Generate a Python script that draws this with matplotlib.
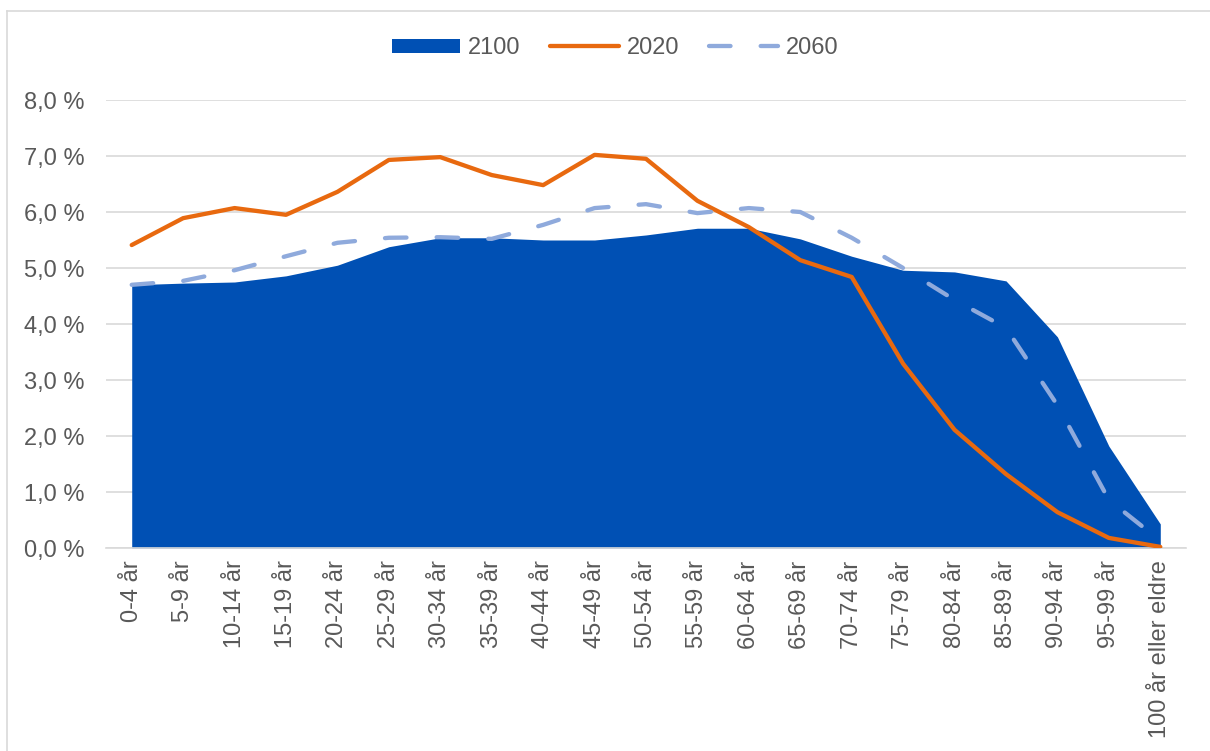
import matplotlib
matplotlib.use("Agg")
import matplotlib.pyplot as plt
from matplotlib.lines import Line2D
from matplotlib.patches import Patch
from matplotlib.ticker import FuncFormatter

categories = ["0-4 år", "5-9 år", "10-14 år", "15-19 år", "20-24 år", "25-29 år",
              "30-34 år", "35-39 år", "40-44 år", "45-49 år", "50-54 år", "55-59 år",
              "60-64 år", "65-69 år", "70-74 år", "75-79 år", "80-84 år", "85-89 år",
              "90-94 år", "95-99 år", "100 år eller eldre"]
v2100 = [4.70, 4.73, 4.75, 4.86, 5.05, 5.38, 5.54, 5.54, 5.50, 5.50, 5.59, 5.71,
         5.71, 5.52, 5.21, 4.96, 4.93, 4.77, 3.77, 1.82, 0.43]
v2020 = [5.41, 5.89, 6.07, 5.95, 6.36, 6.93, 6.98, 6.66, 6.48, 7.02, 6.95, 6.20,
         5.73, 5.14, 4.84, 3.29, 2.11, 1.32, 0.64, 0.18, 0.02]
v2060 = [4.70, 4.77, 4.96, 5.21, 5.45, 5.54, 5.55, 5.52, 5.77, 6.07, 6.14, 5.98,
         6.07, 6.00, 5.54, 5.00, 4.43, 3.93, 2.55, 0.86, 0.13]
yticks = [0, 1, 2, 3, 4, 5, 6, 7, 8]

W, H = 1210, 751
fig = plt.figure(figsize=(W / 100, H / 100), dpi=100)
plt.rcParams['font.family'] = ['Liberation Sans', 'DejaVu Sans']
txt = '#595959'
ax = fig.add_axes([106 / W, 1 - 548 / H, (1186 - 106) / W, (548 - 100) / H])

x = list(range(len(categories)))
c_blue = '#0050B4'
c_orange = '#E8690F'
c_light = '#8FAADC'

ax.fill_between(x, 0, v2100, color=c_blue, linewidth=0, zorder=2)
ax.plot(x, v2020, color=c_orange, lw=3.1, solid_capstyle='round',
        solid_joinstyle='round', zorder=3)
ax.plot(x, v2060, color=c_light, lw=3.1, dashes=(5.0, 7.0),
        dash_capstyle='round', zorder=4)

ax.set_xlim(-0.5, len(categories) - 0.5)
ax.set_ylim(0, 8)
ax.set_yticks(yticks)
ax.yaxis.set_major_formatter(FuncFormatter(lambda v, p: f"{v:.1f}".replace('.', ',') + " %"))
ax.set_xticks(x)
ax.set_xticklabels(categories, rotation=90, va='top', ha='center')
ax.tick_params(axis='both', length=0, labelsize=17, labelcolor=txt)
ax.tick_params(axis='y', pad=15.5)
ax.tick_params(axis='x', pad=9)
ax.grid(axis='y', color='#D9D9D9', lw=1.2, zorder=0)
ax.set_axisbelow(True)
for s in ['top', 'right', 'left']:
    ax.spines[s].set_visible(False)
ax.spines['bottom'].set_color('#D9D9D9')
ax.spines['bottom'].set_linewidth(1.2)

handles = [Patch(facecolor=c_blue, edgecolor='none'),
           Line2D([0], [0], color=c_orange, lw=3.1, solid_capstyle='round'),
           Line2D([0], [0], color=c_light, lw=3.1, dashes=(5.0, 7.0), dash_capstyle='round')]
leg = fig.legend(handles, ["2100", "2020", "2060"], loc='center',
                 bbox_to_anchor=(615 / W, 1 - 48 / H), ncol=3, frameon=False,
                 fontsize=17, handlelength=2.9, handleheight=0.55,
                 columnspacing=1.25, handletextpad=0.35)
for t in leg.get_texts():
    t.set_color(txt)

# figure border
fig.add_artist(Line2D([6.5 / W, 6.5 / W], [0, 1 - 11 / H], transform=fig.transFigure,
                      color='#D9D9D9', lw=1.2))
fig.add_artist(Line2D([6.5 / W, 1], [1 - 11 / H, 1 - 11 / H], transform=fig.transFigure,
                      color='#D9D9D9', lw=1.2))

fig.savefig("out.png", dpi=100)
